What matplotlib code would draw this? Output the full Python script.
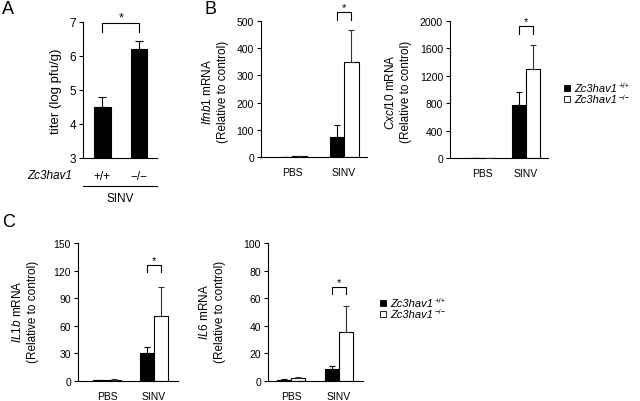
import numpy as np
import matplotlib
matplotlib.use("Agg")
import matplotlib.pyplot as plt
from matplotlib.lines import Line2D

plt.rcParams['font.family'] = ['Liberation Sans', 'DejaVu Sans']
plt.rcParams['mathtext.fontset'] = 'custom'
plt.rcParams['mathtext.rm'] = 'Liberation Sans'
plt.rcParams['mathtext.it'] = 'Liberation Sans:italic'
plt.rcParams['mathtext.bf'] = 'Liberation Sans:bold'
plt.rcParams['axes.linewidth'] = 0.8

# ---- data ----
# panel A: virus titer
a_genotypes = ['+/+', '\u2212/\u2212']
a_titer = [4.5, 6.2]
a_titer_err = [0.28, 0.25]

# panels B/C: mRNA relative to control
treatments = ['PBS', 'SINV']

ifnb1_wt = [1, 75]
ifnb1_wt_err = [0.5, 44]
ifnb1_ko = [2, 350]
ifnb1_ko_err = [1, 118]

cxcl10_wt = [2, 775]
cxcl10_wt_err = [1, 190]
cxcl10_ko = [3, 1300]
cxcl10_ko_err = [1, 355]

il1b_wt = [1, 30]
il1b_wt_err = [0.3, 6.5]
il1b_ko = [1.5, 71]
il1b_ko_err = [0.5, 31.5]

il6_wt = [1, 8.5]
il6_wt_err = [0.3, 2.5]
il6_ko = [2, 35.5]
il6_ko_err = [0.7, 18.5]

legend_gene = 'Zc3hav1'
legend_sup = ['+/+', '\u2212/\u2212']

W, H = 640, 402
fig = plt.figure(figsize=(W / 100, H / 100), dpi=100)
renderer = fig.canvas.get_renderer()


def px_axes(left, top, right, bottom):
    return fig.add_axes([left / W, 1 - bottom / H, (right - left) / W, (bottom - top) / H])


def style(ax, fs):
    for s in ['top', 'right']:
        ax.spines[s].set_visible(False)
    ax.tick_params(axis='y', direction='out', length=3, width=0.8, labelsize=fs, pad=2)
    ax.tick_params(axis='x', length=0, labelsize=fs, pad=7)


def bracket(ax, x0, x1, y_leg, y_top, fs=8):
    ax.plot([x0, x0, x1, x1], [y_leg, y_top, y_top, y_leg], color='black', lw=0.8, clip_on=False)
    ax.annotate('*', xy=((x0 + x1) / 2, y_top), xytext=(0, 1.5), textcoords='offset points',
                ha='center', va='baseline', fontsize=fs, annotation_clip=False)


def bar_panel(ax, wt, wt_err, ko, ko_err, width, xlim, ylim, yticks, sig):
    x = np.arange(len(treatments))
    ax.bar(x - width / 2, wt, width, color='black', edgecolor='black', lw=0.8, zorder=2)
    ax.bar(x + width / 2, ko, width, color='white', edgecolor='black', lw=0.8, zorder=2)
    ax.errorbar(x - width / 2, wt, yerr=[np.zeros(len(wt)), wt_err], fmt='none', ecolor='black',
                elinewidth=0.8, capsize=2.5, capthick=0.8, zorder=3)
    ax.errorbar(x + width / 2, ko, yerr=[np.zeros(len(ko)), ko_err], fmt='none', ecolor='#333333',
                elinewidth=0.8, capsize=2.5, capthick=0.8, zorder=3)
    ax.set_xlim(*xlim)
    ax.set_ylim(*ylim)
    ax.set_yticks(yticks)
    ax.set_xticks(x, treatments)
    style(ax, 7.5)
    bracket(ax, 1 - width / 2, 1 + width / 2, sig[0], sig[1])


def ylabel(x, y, gene):
    fig.text(x / W, 1 - y / H, r'$\mathit{%s}$ mRNA' % gene + '\n(Relative to control)',
             rotation=90, ha='center', va='center', fontsize=8.5, linespacing=1.35)


def legend(x, y, dy):
    for i, fc in enumerate(['black', 'white']):
        yy = 1 - (y + i * dy) / H
        fig.add_artist(Line2D([x / W], [yy], marker='s', markersize=3.8, mfc=fc, mec='black',
                              mew=0.6, transform=fig.transFigure))
        t = fig.text((x + 7) / W, yy, legend_gene, style='italic', ha='left', va='center',
                     fontsize=8)
        x_end = t.get_window_extent(renderer).x1
        fig.text((x_end + 2) / W, yy + 2 / H, legend_sup[i], ha='left', va='center',
                 fontsize=5.5)


# ---- panel A ----
axA = px_axes(83, 23, 157, 159)
xa = np.arange(len(a_genotypes))
wa = 0.45
axA.bar(xa, a_titer, wa, color='black', edgecolor='black', lw=0.8, zorder=2)
axA.errorbar(xa, a_titer, yerr=[np.zeros(2), a_titer_err], fmt='none', ecolor='black',
             elinewidth=0.8, capsize=3, capthick=0.8, zorder=3)
axA.set_xlim(-0.53, 1.49)
axA.set_ylim(3, 7)
axA.set_yticks([3, 4, 5, 6, 7])
axA.set_xticks(xa, a_genotypes)
style(axA, 8.5)
axA.tick_params(axis='x', pad=9)
bracket(axA, 0, 1, 6.7, 6.97, fs=9)
fig.text(56 / W, 1 - 91 / H, 'titer (log pfu/g)', rotation=90, ha='center', va='center', fontsize=9.5)
fig.text(72 / W, 1 - 176 / H, 'Zc3hav1', style='italic', ha='right', va='center', fontsize=8.5)
fig.add_artist(Line2D([83 / W, 157 / W], [1 - 187 / H] * 2, color='black', lw=0.8,
                      transform=fig.transFigure))
fig.text(120 / W, 1 - 199 / H, 'SINV', ha='center', va='center', fontsize=8.5)

# ---- panel B ----
axB1 = px_axes(261, 22, 367, 158)
bar_panel(axB1, ifnb1_wt, ifnb1_wt_err, ifnb1_ko, ifnb1_ko_err, 0.28, (-0.6, 1.44), (0, 500),
          range(0, 501, 100), (504, 533))
ylabel(215, 92, 'Ifnb1')

axB2 = px_axes(450, 22, 548, 159)
bar_panel(axB2, cxcl10_wt, cxcl10_wt_err, cxcl10_ko, cxcl10_ko_err, 0.31, (-0.73, 1.5), (0, 2000),
          range(0, 2001, 400), (1804, 1922))
ylabel(398, 92, 'Cxcl10')
legend(567, 89, 11)

# ---- panel C ----
axC1 = px_axes(78, 244, 178, 382)
bar_panel(axC1, il1b_wt, il1b_wt_err, il1b_ko, il1b_ko_err, 0.29, (-0.62, 1.51), (0, 150),
          range(0, 151, 30), (119, 125.6))
ylabel(25, 312, 'IL1b')

axC2 = px_axes(268, 244, 363, 382)
bar_panel(axC2, il6_wt, il6_wt_err, il6_ko, il6_ko_err, 0.29, (-0.48, 1.5), (0, 100),
          range(0, 101, 20), (62.7, 68.3))
ylabel(212, 312, 'IL6')
legend(383, 304, 11)

# panel letters
for lab, x, y in [('A', 2, 10), ('B', 205, 10), ('C', 2, 223)]:
    fig.text(x / W, 1 - y / H, lab, ha='left', va='center', fontsize=13)

fig.savefig('out.png', dpi=100)
